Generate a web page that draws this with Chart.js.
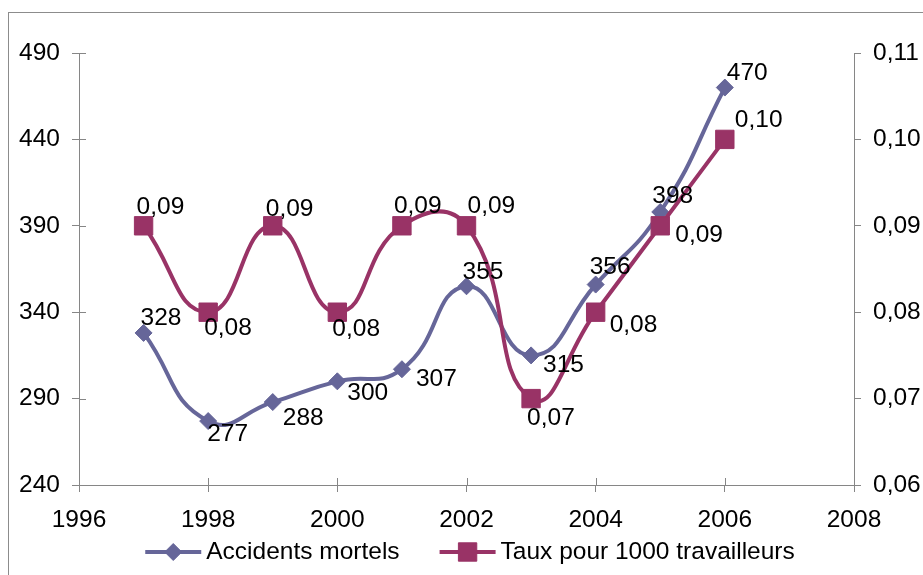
<!DOCTYPE html>
<html>
<head>
<meta charset="utf-8">
<script src="https://cdn.jsdelivr.net/npm/chart.js@4/dist/chart.umd.min.js"></script>
<style>
  html, body { margin: 0; padding: 0; background: #fff; }
  #wrap { width: 923px; height: 575px; }
</style>
</head>
<body>
<div id="wrap"><canvas id="chart" width="923" height="575"></canvas></div>
<script>
// Years on the x axis and the two series
const years = [1997, 1998, 1999, 2000, 2001, 2002, 2003, 2004, 2005, 2006];
const accidentsMortels = [328, 277, 288, 300, 307, 355, 315, 356, 398, 470];
const tauxPour1000 = [0.09, 0.08, 0.09, 0.08, 0.09, 0.09, 0.07, 0.08, 0.09, 0.10];

// Axis tick values
const xTicks = [1996, 1998, 2000, 2002, 2004, 2006, 2008];
const leftTicks = [240, 290, 340, 390, 440, 490];
const rightTicks = [0.06, 0.07, 0.08, 0.09, 0.10, 0.11];

const seriesNames = ['Accidents mortels', 'Taux pour 1000 travailleurs'];

// Where each value label sits relative to its point: [dx to text left, dy to text middle]
const accidentsLabelOffsets = [[-3, -15], [-1, 13], [10, 16], [10, 12], [14, 10], [-4, -14], [12, 10], [-6, -17], [-8, -16], [2, -14]];
const tauxLabelOffsets = [[-7, -19], [-4, 16], [-7, -17], [-5, 17], [-8, -20], [1, -20], [-4, 20], [14, 13], [15, 9], [10, -19]];

const BLUE = '#666699';
const PLUM = '#993366';
const AXIS = '#868686';
const FONT = '"Liberation Sans", Arial, sans-serif';
const FONT_SIZE = 24.5;

const fmtComma = v => v.toFixed(2).replace('.', ',');

const frameAndTicks = {
  id: 'frameAndTicks',
  beforeDraw(chart) {
    const ctx = chart.ctx;
    ctx.save();
    ctx.fillStyle = '#ffffff';
    ctx.fillRect(0, 0, chart.width, chart.height);
    ctx.strokeStyle = '#8c8c8c';
    ctx.lineWidth = 1;
    ctx.strokeRect(8.5, 12.5, chart.width + 20, chart.height + 20);
    ctx.restore();
  },
  afterDraw(chart) {
    // inner halves of the crossing tick marks
    const ctx = chart.ctx;
    const xs = chart.scales.x, ys = chart.scales.y;
    ctx.save();
    ctx.strokeStyle = AXIS;
    ctx.lineWidth = 1;
    ctx.beginPath();
    xs.ticks.forEach(t => {
      const px = Math.round(xs.getPixelForValue(t.value)) + 0.5;
      ctx.moveTo(px, xs.top);
      ctx.lineTo(px, xs.top - 7);
    });
    ys.ticks.forEach(t => {
      const py = Math.round(ys.getPixelForValue(t.value)) + 0.5;
      ctx.moveTo(ys.right, py);
      ctx.lineTo(ys.right + 7, py);
    });
    ctx.stroke();
    ctx.restore();
  }
};

const valueLabels = {
  id: 'valueLabels',
  afterDatasetsDraw(chart) {
    const ctx = chart.ctx;
    ctx.save();
    ctx.font = FONT_SIZE + 'px ' + FONT;
    ctx.fillStyle = '#000';
    ctx.textAlign = 'left';
    ctx.textBaseline = 'middle';
    chart.data.datasets.forEach((ds, i) => {
      const meta = chart.getDatasetMeta(i);
      meta.data.forEach((pt, j) => {
        const off = ds.labelOffsets[j];
        const text = ds.labelFormat(ds.data[j].y);
        ctx.fillText(text, pt.x + off[0], pt.y + off[1]);
      });
    });
    ctx.restore();
  }
};

const lineLegend = {
  id: 'lineLegend',
  afterDraw(chart) {
    const ctx = chart.ctx;
    const sampleW = 56, textGap = 5, itemGap = 40, cy = 552;
    const centerX = 470;
    ctx.save();
    ctx.font = FONT_SIZE + 'px ' + FONT;
    const items = chart.data.datasets.map(ds => ({ ds, w: ctx.measureText(ds.label).width }));
    let total = 0;
    items.forEach((it, i) => { total += sampleW + textGap + it.w + (i ? itemGap : 0); });
    let x = centerX - total / 2;
    items.forEach(it => {
      const ds = it.ds;
      ctx.strokeStyle = ds.borderColor;
      ctx.lineWidth = ds.borderWidth;
      ctx.beginPath();
      ctx.moveTo(x, cy);
      ctx.lineTo(x + sampleW, cy);
      ctx.stroke();
      ctx.fillStyle = ds.pointBackgroundColor;
      ctx.strokeStyle = ds.pointBorderColor;
      ctx.lineWidth = ds.pointBorderWidth;
      Chart.helpers.drawPoint(ctx, { pointStyle: ds.pointStyle, radius: ds.pointRadius, rotation: 0, borderWidth: ds.pointBorderWidth }, x + sampleW / 2, cy);
      ctx.fillStyle = '#000';
      ctx.textAlign = 'left';
      ctx.textBaseline = 'middle';
      ctx.fillText(ds.label, x + sampleW + textGap, cy);
      x += sampleW + textGap + it.w + itemGap;
    });
    ctx.restore();
  }
};

const tickFont = { family: FONT, size: FONT_SIZE };

new Chart(document.getElementById('chart'), {
  type: 'line',
  data: {
    datasets: [
      {
        label: seriesNames[0],
        data: years.map((y, i) => ({ x: y, y: accidentsMortels[i] })),
        yAxisID: 'y',
        borderColor: BLUE,
        backgroundColor: BLUE,
        borderWidth: 4,
        pointStyle: 'rectRot',
        pointRadius: 8.5,
        pointBorderWidth: 1,
        pointBackgroundColor: BLUE,
        pointBorderColor: BLUE,
        tension: 0.5,
        order: 1,
        labelOffsets: accidentsLabelOffsets,
        labelFormat: v => String(v)
      },
      {
        label: seriesNames[1],
        data: years.map((y, i) => ({ x: y, y: tauxPour1000[i] })),
        yAxisID: 'y1',
        borderColor: PLUM,
        backgroundColor: PLUM,
        borderWidth: 4,
        pointStyle: 'rect',
        pointRadius: 13,
        pointBorderWidth: 1,
        pointBackgroundColor: PLUM,
        pointBorderColor: PLUM,
        tension: 0.5,
        order: 0,
        labelOffsets: tauxLabelOffsets,
        labelFormat: fmtComma
      }
    ]
  },
  options: {
    responsive: false,
    animation: false,
    devicePixelRatio: 1,
    layout: { padding: { top: 53, bottom: 45, left: 0, right: 0 } },
    plugins: { legend: { display: false }, tooltip: { enabled: false } },
    scales: {
      x: {
        type: 'linear',
        min: xTicks[0],
        max: xTicks[xTicks.length - 1],
        afterBuildTicks: s => { s.ticks = xTicks.map(v => ({ value: v })); },
        afterFit: s => { s.height = 45; },
        grid: { drawOnChartArea: false, drawTicks: true, tickLength: 7, color: AXIS },
        border: { display: true, color: AXIS, width: 1 },
        ticks: { color: '#000', font: tickFont, padding: 14, maxRotation: 0, callback: v => String(v) }
      },
      y: {
        position: 'left',
        min: leftTicks[0],
        max: leftTicks[leftTicks.length - 1],
        afterBuildTicks: s => { s.ticks = leftTicks.map(v => ({ value: v })); },
        afterFit: s => { s.width = 79; },
        grid: { drawOnChartArea: false, drawTicks: true, tickLength: 7, color: AXIS },
        border: { display: true, color: AXIS, width: 1 },
        ticks: { color: '#000', font: tickFont, padding: 12, callback: v => String(v) }
      },
      y1: {
        position: 'right',
        min: rightTicks[0],
        max: rightTicks[rightTicks.length - 1],
        afterBuildTicks: s => { s.ticks = rightTicks.map(v => ({ value: v })); },
        afterFit: s => { s.width = 69; },
        grid: { drawOnChartArea: false, drawTicks: true, tickLength: 7, color: AXIS },
        border: { display: true, color: AXIS, width: 1 },
        ticks: { color: '#000', font: tickFont, padding: 12, callback: v => fmtComma(v) }
      }
    }
  },
  plugins: [frameAndTicks, valueLabels, lineLegend]
});
</script>
</body>
</html>
